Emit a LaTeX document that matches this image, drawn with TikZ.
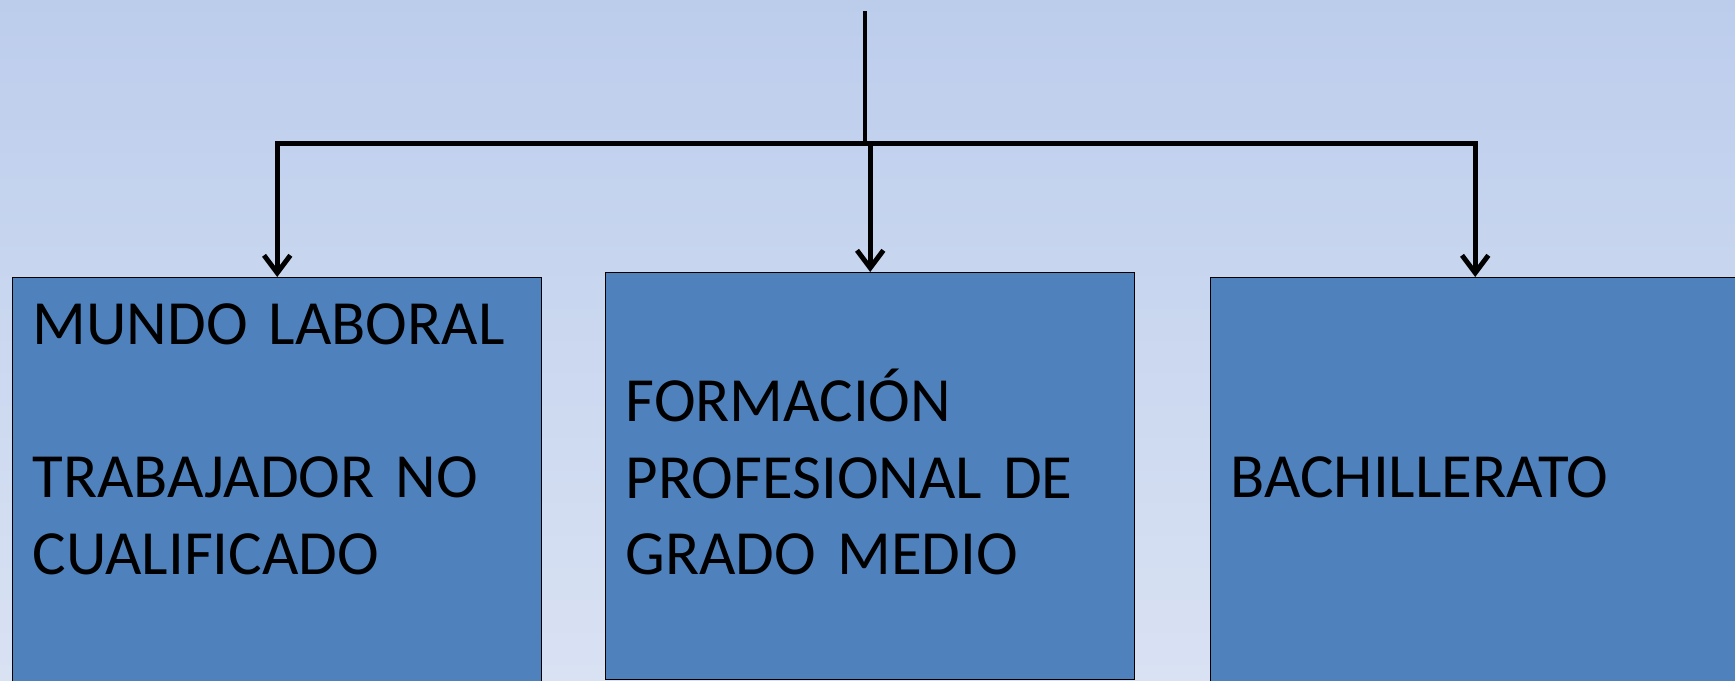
\documentclass[tikz,border=0pt]{standalone}
\usepackage{fontspec}
\setmainfont{Carlito}
\usetikzlibrary{arrows.meta,calc}
\definecolor{slidetop}{RGB}{188,205,236}
\definecolor{slidebot}{RGB}{217,226,243}
\definecolor{boxblue}{RGB}{79,129,189}
\newcommand{\apoyo}{\rule[-5pt]{0pt}{5pt}}

\begin{document}
\begin{tikzpicture}[scale=0.2,
        salida/.style={draw=black, line width=0.8pt, fill=boxblue, anchor=north west,
            align=left, inner xsep=0.4cm, inner ysep=0pt, text width=9.78cm,
            font=\fontsize{35.8}{43.6}\selectfont},
        flecha/.style={draw=black, line width=2.8pt, -{Straight Barb[length=10pt,width=15pt]}}]
        \useasboundingbox (0,0) rectangle (173.5,-68.1);
        \clip (0,0) rectangle (173.5,-68.1);
        \shade [top color=slidetop, bottom color=slidebot] (0,0) rectangle (173.5,-68.1);
        % the three boxes
        \node [salida, minimum height=8.16cm] (mundo) at (1.2,-27.7)
            {MUNDO LABORAL\\\strut\\TRABAJADOR NO\\CUALIFICADO\\\apoyo};
        \node [salida, minimum height=8.14cm] (formacion) at (60.5,-27.2)
            {FORMACIÓN\\PROFESIONAL DE\\GRADO MEDIO\apoyo};
        \node [salida, minimum height=8.16cm] (bach) at (121.0,-27.7)
            {BACHILLERATO\apoyo};
        % arrows from the top line down to the boxes
        \coordinate (inicio) at (86.5,-1.1);
        \coordinate (reparto) at (86.5,-14.35);
        \draw [black, line width=2.8pt] (inicio) -- (reparto);
        \draw [flecha] (reparto) -| (mundo.north);
        \draw [flecha] (reparto) -| (bach.north);
        \draw [flecha] (reparto -| formacion.north) -- (formacion.north);
\end{tikzpicture}
\end{document}
